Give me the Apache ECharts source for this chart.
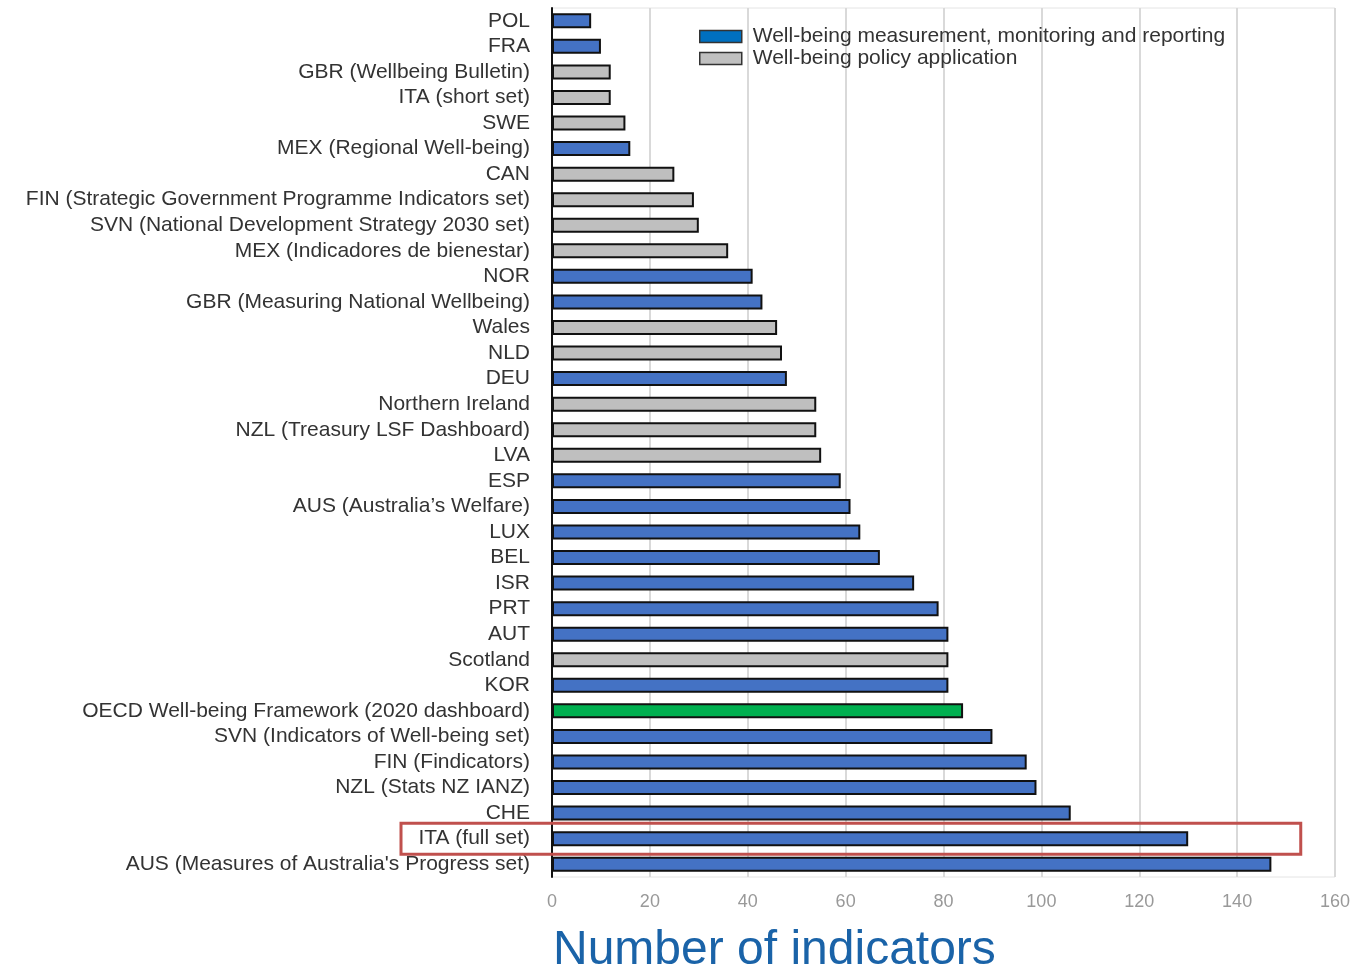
<!DOCTYPE html>
<html>
<head>
<meta charset="utf-8">
<script src="https://cdn.jsdelivr.net/npm/echarts@6/dist/echarts.min.js"></script>
<style>
  html, body { margin: 0; padding: 0; background: #fff; }
  #chart { width: 1356px; height: 968px; }
</style>
</head>
<body>
<div id="chart"></div>
<script>
const categories = [
  'POL', 'FRA', 'GBR (Wellbeing Bulletin)', 'ITA (short set)', 'SWE',
  'MEX (Regional Well-being)', 'CAN', 'FIN (Strategic Government Programme Indicators set)',
  'SVN (National Development Strategy 2030 set)', 'MEX (Indicadores de bienestar)',
  'NOR', 'GBR (Measuring National Wellbeing)', 'Wales', 'NLD', 'DEU',
  'Northern Ireland', 'NZL (Treasury LSF Dashboard)', 'LVA', 'ESP',
  'AUS (Australia\u2019s Welfare)', 'LUX', 'BEL', 'ISR', 'PRT', 'AUT', 'Scotland', 'KOR',
  'OECD Well-being Framework (2020 dashboard)', 'SVN (Indicators of Well-being set)',
  'FIN (Findicators)', 'NZL (Stats NZ IANZ)', 'CHE', 'ITA (full set)',
  'AUS (Measures of Australia\'s Progress set)'
]

const values = [
  8, 10, 12, 12, 15, 16, 25, 29, 30, 36,
  41, 43, 46, 47, 48, 54, 54, 55, 59, 61,
  63, 67, 74, 79, 81, 81, 81, 84, 90, 97,
  99, 106, 130, 147
]

// m = measurement/monitoring, p = policy application, o = OECD framework
const kinds = [
  'm', 'm', 'p', 'p', 'p', 'm', 'p', 'p', 'p', 'p',
  'm', 'm', 'p', 'p', 'm', 'p', 'p', 'p', 'm', 'm',
  'm', 'm', 'm', 'm', 'm', 'p', 'm', 'o', 'm', 'm',
  'm', 'm', 'm', 'm'
]

const xTicks = [0, 20, 40, 60, 80, 100, 120, 140, 160]
const highlighted = 'ITA (full set)'

const nameMeasure = 'Well-being measurement, monitoring and reporting'
const namePolicy = 'Well-being policy application'

function pick(kind) {
  return values.map((v, i) => (kinds[i] === kind ? v : '-'))
}

function barSeries(name, kind, color) {
  return {
    name: name,
    type: 'bar',
    data: pick(kind),
    barWidth: 15,
    barGap: '-100%',
    itemStyle: {
      color: color,
      borderColor: '#111',
      borderWidth: 2,
    },
    silent: true,
  }
}

const chart = echarts.init(document.getElementById('chart'))

chart.setOption({
  animation: false,
  textStyle: { fontFamily: 'Liberation Sans, Arial, sans-serif' },
  title: {
    text: 'Number of indicators',
    left: 548,
    top: 922,
    textStyle: { fontSize: 48, fontWeight: 'normal', color: '#1a63a8' },
  },
  grid: {
    left: 552,
    right: 21,
    top: 8,
    bottom: 91,
    outerBoundsMode: 'none',
    show: true,
    borderColor: '#e4e4e4',
    borderWidth: 1,
  },
  legend: {
    orient: 'vertical',
    left: 694,
    top: 21,
    icon: 'rect',
    itemWidth: 42,
    itemHeight: 12,
    itemGap: 1,
    textStyle: { fontSize: 21, color: '#333', padding: [0, 0, 0, 6] },
    data: [
      { name: nameMeasure, itemStyle: { color: '#0070C0', borderColor: '#333', borderWidth: 1.5 } },
      { name: namePolicy, itemStyle: { color: '#C0C0C0', borderColor: '#333', borderWidth: 1.5 } },
    ],
  },
  xAxis: {
    type: 'value',
    min: xTicks[0],
    max: xTicks[xTicks.length - 1],
    interval: 20,
    axisLine: { show: false },
    axisTick: { show: false },
    axisLabel: { fontSize: 18, color: '#999', margin: 16 },
    splitLine: { lineStyle: { color: '#d9d9d9', width: 2 } },
  },
  yAxis: {
    type: 'category',
    inverse: true,
    data: categories,
    axisLine: { lineStyle: { color: '#111', width: 2 } },
    axisTick: { show: false },
    axisLabel: { fontSize: 21, color: '#333', margin: 22, interval: 0 },
  },
  series: [
    barSeries(nameMeasure, 'm', '#4472C4'),
    barSeries(namePolicy, 'p', '#BFBFBF'),
    barSeries('OECD', 'o', '#00B050'),
  ],
})

// red annotation frame around the highlighted row
const rowY = chart.convertToPixel({ yAxisIndex: 0 }, highlighted)
const rightX = chart.convertToPixel({ xAxisIndex: 0 }, 153)
chart.setOption({
  graphic: [{
    type: 'rect',
    shape: { x: 401, y: rowY - 15.5, width: rightX - 401, height: 31 },
    style: { fill: 'none', stroke: '#C0504D', lineWidth: 3 },
    z: 100,
  }],
})
</script>
</body>
</html>
